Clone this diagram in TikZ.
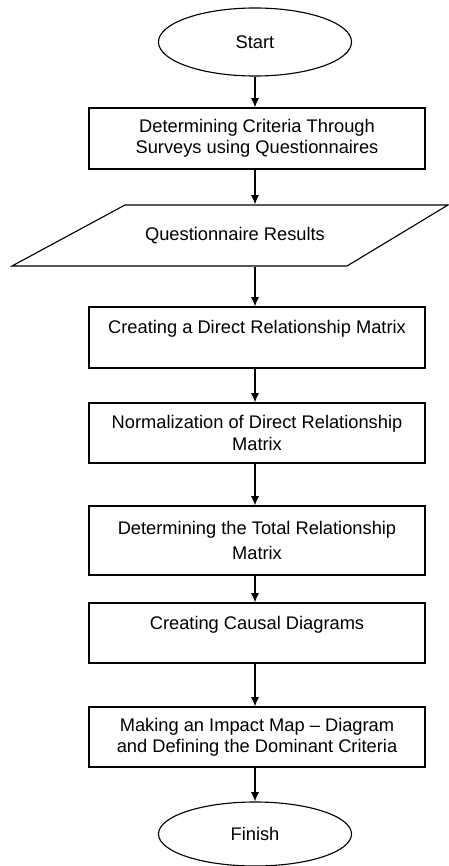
\documentclass[tikz,border=0pt]{standalone}
\usepackage{fontspec}
\setmainfont{Liberation Sans}
\usetikzlibrary{arrows.meta,shapes.geometric}

\begin{document}
\begin{tikzpicture}[x=0.025cm, y=-0.025cm, line width=0.8pt,
	every node/.style={font=\fontsize{13}{15}\selectfont},
	>={Latex[length=2.3mm, width=2mm]},
	term/.style={draw, ellipse, minimum width=4.825cm, minimum height=1.7cm, inner sep=0pt},
	proc/.style={draw, rectangle, align=center, minimum width=8.4cm, minimum height=1.525cm, inner sep=2pt},
	io/.style={rectangle, minimum width=8.1cm, minimum height=1.525cm, inner sep=0pt}]
	\useasboundingbox (0,0) rectangle (448,866);
	\node[term] (start) at (255,42) {Start};
	\node[proc] (S1) at (257,138.5) {Determining Criteria Through\\ Surveys using Questionnaires};
	% data box, slanted sides drawn by hand
	\node[io] (Q) at (235,235.5) {Questionnaire Results};
	\draw (125,205) -- (448,205) -- (347,266) -- (12,266) -- cycle;
	\node[proc] (S2) at (257,337.5) {Creating a Direct Relationship Matrix\\ ~};
	\node[proc, minimum height=1.5cm] (S3) at (257,433) {Normalization of Direct Relationship\\ Matrix};
	\node[proc, minimum height=1.725cm] (S4) at (257,540.5) {Determining the Total Relationship\\[3pt] Matrix};
	\node[proc, minimum height=1.5cm] (S5) at (257,633) {Creating Causal Diagrams\\ ~};
	\node[proc, minimum height=1.5cm] (S6) at (257,737) {Making an Impact Map -- Diagram\\ and Defining the Dominant Criteria};
	\node[term, minimum height=1.6cm] (fin) at (255,834) {Finish};
	\draw[->] (start.south) -- (start.south |- S1.north);
	\draw[->] (S1.south -| start) -- (start |- Q.north);
	\draw[->] (Q.south -| start) -- (S2.north -| start);
	\draw[->] (S2.south -| start) -- (S3.north -| start);
	\draw[->] (S3.south -| start) -- (S4.north -| start);
	\draw[->] (S4.south -| start) -- (S5.north -| start);
	\draw[->] (S5.south -| start) -- (S6.north -| start);
	\draw[->] (S6.south -| start) -- (fin.north -| start);
\end{tikzpicture}
\end{document}
